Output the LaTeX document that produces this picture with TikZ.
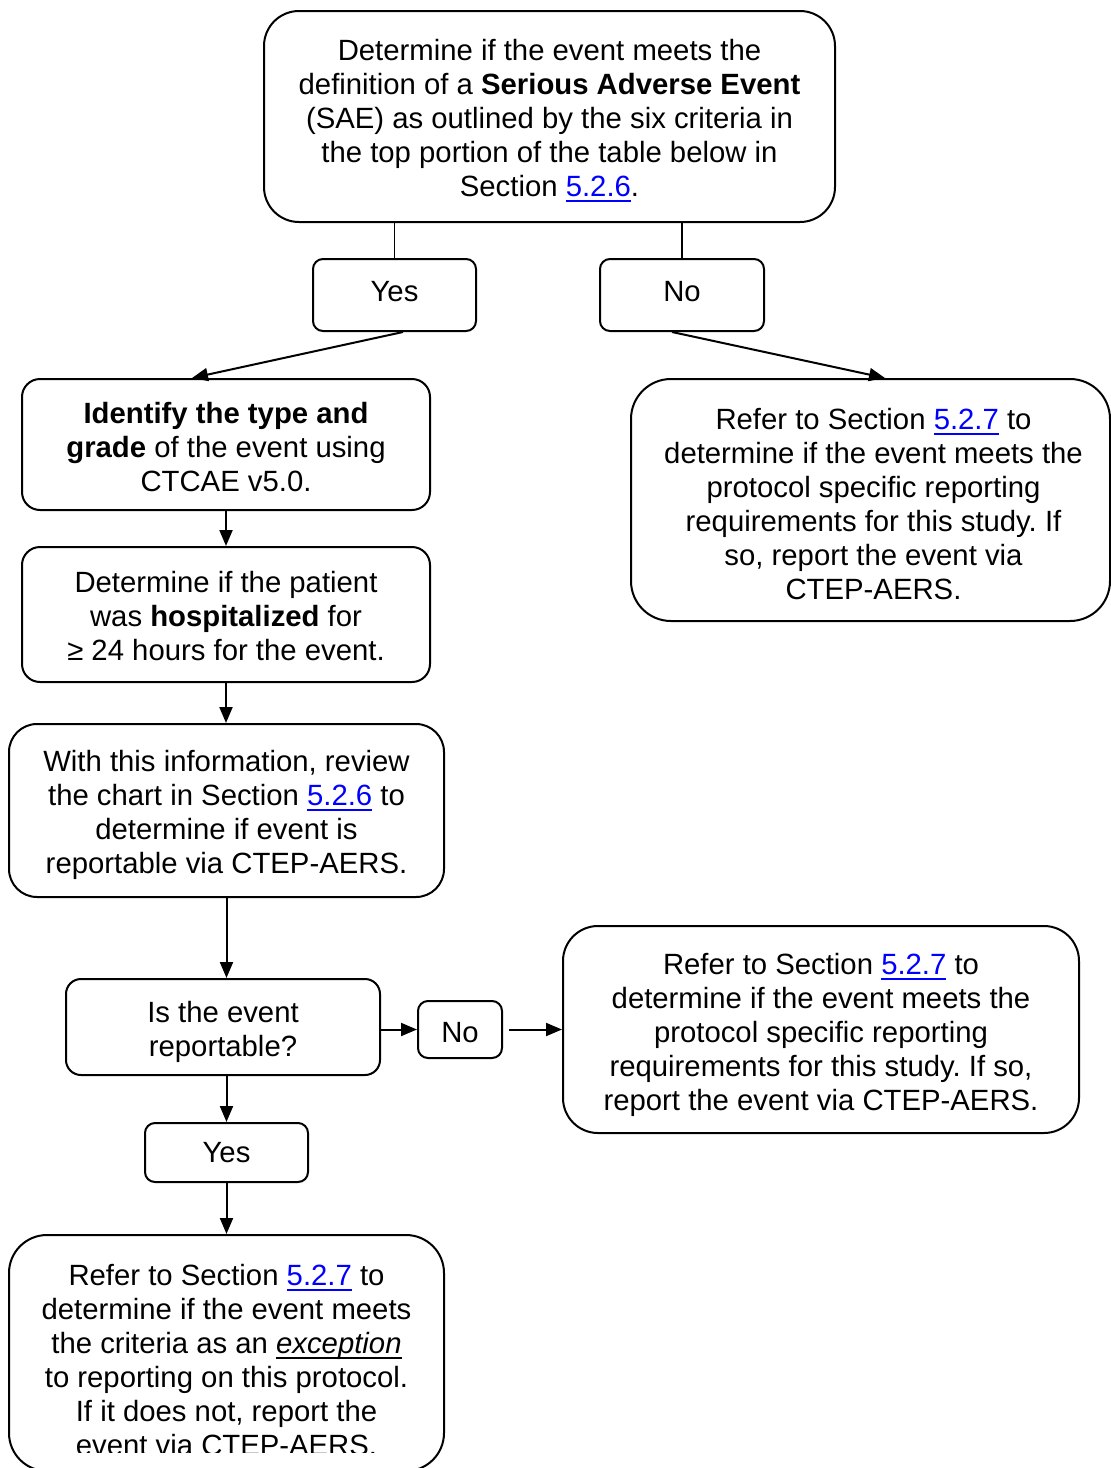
\documentclass[tikz,border=0pt]{standalone}
\usepackage{fontspec}
\setmainfont{Liberation Sans}
\usetikzlibrary{arrows.meta}
\definecolor{linkblue}{RGB}{0,0,255}
\newcommand{\myul}[1]{\setbox0\hbox{#1}\rlap{\rule[-5.5pt]{\wd0}{1.9pt}}\box0}
\newcommand{\lnk}[1]{{\color{linkblue}\myul{#1}}}
\newcommand{\fsz}{\fontsize{29.3}{34}\selectfont\frenchspacing}
\begin{document}
\begin{tikzpicture}[x=1pt,y=-1pt,
  box/.style={draw, line width=2pt, inner sep=0pt},
  txt/.style={inner sep=0pt, align=center, font=\fsz},
  arr/.style={line width=2pt, -{Triangle[length=16pt,width=13pt]}},
  plain/.style={line width=1.6pt}]
\useasboundingbox (0,0) rectangle (1111,1468);
\fill[white] (0,0) rectangle (1111,1468);

\node[box, rounded corners=35pt, minimum width=571pt, minimum height=211pt] (top) at (549.5,116.5) {};
\node[txt, yshift=-4pt] (topT) at (top)
  {Determine if the event meets the\\ definition of a \textbf{Serious Adverse Event}\\ (SAE) as outlined by the six criteria in\\ the top portion of the table below in\\ Section \lnk{5.2.6}.};

\node[box, rounded corners=10pt, minimum width=163pt, minimum height=72pt] (yes1) at (394.5,295) {};
\node[txt, yshift=3pt] (yes1T) at (yes1) {Yes};
\node[box, rounded corners=10pt, minimum width=164pt, minimum height=72pt] (no1) at (682,295) {};
\node[txt, yshift=3pt] (no1T) at (no1) {No};

\node[box, rounded corners=18pt, minimum width=408pt, minimum height=131pt] (ident) at (226,444.5) {};
\node[txt, yshift=-3pt] (identT) at (ident)
  {\textbf{Identify the type and}\\ \textbf{grade} of the event using\\ CTCAE v5.0.};

\node[box, rounded corners=40pt, minimum width=479pt, minimum height=242pt] (rtop) at (870.5,500) {};
\node[txt, yshift=-4pt, xshift=3pt] (rtopT) at (rtop)
  {Refer to Section \lnk{5.2.7} to\\ determine if the event meets the\\ protocol specific reporting\\ requirements for this study. If\\ so, report the event via\\ CTEP-AERS.};

\node[box, rounded corners=18pt, minimum width=408pt, minimum height=135pt] (hosp) at (226,614.5) {};
\node[txt, yshift=-2pt] (hospT) at (hosp)
  {Determine if the patient\\ was \textbf{hospitalized} for\\ ≥ 24 hours for the event.};

\node[box, rounded corners=28pt, minimum width=435pt, minimum height=173pt] (review) at (226.5,810.5) {};
\node[txt, yshift=-4pt] (reviewT) at (review)
  {With this information, review\\ the chart in Section \lnk{5.2.6} to\\ determine if event is\\ reportable via CTEP-AERS.};

\node[box, rounded corners=15pt, minimum width=314pt, minimum height=96pt] (isev) at (223,1027) {};
\node[txt, yshift=-5pt] (isevT) at (isev) {Is the event\\ reportable?};

\node[box, rounded corners=10pt, minimum width=84pt, minimum height=57pt] (no2) at (460,1029.5) {};
\node[txt, yshift=-3pt] (no2T) at (no2) {No};

\node[box, rounded corners=35pt, minimum width=516pt, minimum height=207pt] (rlow) at (821,1029.5) {};
\node[txt, yshift=-5pt] (rlowT) at (rlow)
  {Refer to Section \lnk{5.2.7} to\\ determine if the event meets the\\ protocol specific reporting\\ requirements for this study. If so,\\ report the event via CTEP-AERS.};

\node[box, rounded corners=10pt, minimum width=163pt, minimum height=59pt] (yes2) at (226.5,1152.5) {};
\node[txt] (yes2T) at (yes2) {Yes};

\node[box, rounded corners=38pt, minimum width=435pt, minimum height=236pt] (bot) at (226.5,1353) {};
\begin{scope}
  \clip (0,1236) rectangle (1111,1452);
  \node[txt] (bottxt) at (226.5,1360)
    {Refer to Section \lnk{5.2.7} to\\ determine if the event meets\\ the criteria as an \myul{\textit{exception}}\\ to reporting on this protocol.\\ If it does not, report the\\ event via CTEP-AERS.};
\end{scope}

% connectors
\draw[plain] (yes1.north |- top.south) -- (yes1.north);
\draw[plain] (no1.north |- top.south) -- (no1.north);
\draw[arr] ([xshift=8.5pt]yes1.south) -- ([xshift=-34pt]ident.north);
\draw[arr] ([xshift=-10pt]no1.south) -- ([xshift=14.5pt]rtop.north);
\draw[arr] (ident.south) -- (hosp.north);
\draw[arr] (hosp.south) -- (hosp.south |- review.north);
\draw[arr] (review.south) -- (review.south |- isev.north);
\draw[arr] (isev.east |- no2.west) -- (no2.west);
\draw[arr] ([xshift=6pt]no2.east) -- (rlow.west |- no2.east);
\draw[arr] (yes2.north |- isev.south) -- (yes2.north);
\draw[arr] (yes2.south) -- (yes2.south |- bot.north);
\end{tikzpicture}
\end{document}
